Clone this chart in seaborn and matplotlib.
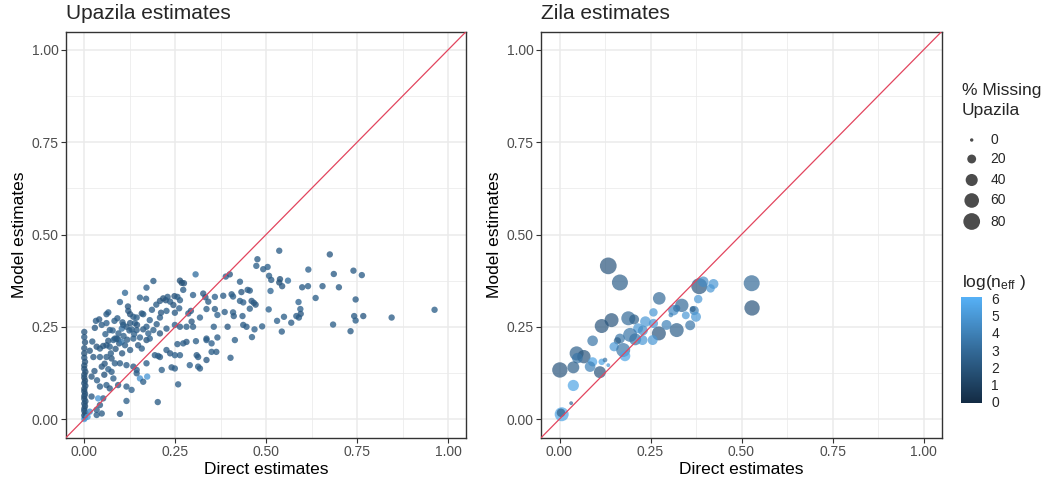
import numpy as np
import pandas as pd
import matplotlib
matplotlib.use("Agg")
import matplotlib.pyplot as plt
import seaborn as sns
from matplotlib.colors import LinearSegmentedColormap, Normalize
from matplotlib.cm import ScalarMappable

# ---------------- data: Upazila panel (direct, model, log n_eff) ----------------
A_x = [0.536,0.675,0.476,0.473,0.492,0.504,0.616,0.740,0.763,0.686,0.508,0.514,0.536,0.538,0.544,0.560,0.512,0.599,0.615,0.655,0.700,0.636,0.746,0.455,0.460,0.466,0.471,0.455,0.589,0.507,0.594,0.595,0.583,0.590,0.549,0.530,0.569,0.742,0.746,0.767,0.845,0.963,0.684,0.732,0.543,0.489,0.468,0.461]
A_y = [0.456,0.446,0.433,0.415,0.406,0.412,0.405,0.402,0.390,0.393,0.388,0.377,0.370,0.379,0.360,0.375,0.347,0.357,0.360,0.360,0.357,0.328,0.324,0.348,0.320,0.315,0.310,0.299,0.317,0.297,0.298,0.285,0.279,0.275,0.277,0.266,0.261,0.279,0.267,0.279,0.275,0.296,0.256,0.238,0.237,0.251,0.243,0.222]
A_c = [2.4,2.2,2.3,2.5,2.4,2.6,2.6,2.3,2.4,2.3,2.5,2.4,1.8,1.9,2.2,3.2,2.9,2.4,2.5,2.4,2.3,2.5,2.3,2.4,2.2,2.3,2.1,2.5,2.8,2.7,2.6,2.2,2.4,2.3,2.5,2.6,2.4,2.3,2.5,2.2,2.4,2.5,2.5,2.3,2.4,2.5,2.6,2.5]

B_x = [0.190,0.263,0.268,0.274,0.306,0.389,0.400,0.428,0.171,0.112,0.153,0.170,0.098,0.208,0.217,0.224,0.229,0.236,0.245,0.248,0.256,0.263,0.272,0.299,0.327,0.333,0.341,0.359,0.382,0.405,0.409,0.432,0.449,0.428,0.437]
B_y = [0.374,0.375,0.369,0.368,0.392,0.386,0.392,0.372,0.356,0.342,0.329,0.326,0.317,0.320,0.327,0.322,0.331,0.318,0.309,0.333,0.331,0.322,0.350,0.336,0.340,0.330,0.318,0.331,0.334,0.338,0.332,0.344,0.350,0.320,0.316]
B_c = [2.3,1.9,1.7,2.0,3.3,2.4,2.2,2.5,2.6,3.0,2.5,2.4,2.6,2.2,1.9,2.0,2.3,2.4,2.1,2.0,2.3,2.5,2.4,2.6,2.2,2.0,2.3,2.6,2.4,2.3,2.5,2.2,2.4,2.5,2.6]

C_x = [0.032,0.041,0.066,0.061,0.083,0.091,0.121,0.126,0.135,0.144,0.158,0.162,0.180,0.208,0.211,0.226,0.249,0.261,0.286,0.293,0.336,0.359,0.366,0.386,0.409,0.411,0.435]
C_y = [0.266,0.270,0.289,0.284,0.266,0.273,0.293,0.284,0.277,0.275,0.286,0.284,0.268,0.275,0.288,0.293,0.288,0.300,0.286,0.293,0.298,0.298,0.282,0.290,0.289,0.279,0.279]
C_c = [2.4,2.2,2.6,2.3,2.5,2.4,2.2,2.0,2.3,2.5,2.1,2.3,2.6,2.4,2.2,2.5,2.3,2.6,2.4,2.2,2.5,2.3,2.6,2.4,2.5,2.3,2.4]

D_x = [0.029,0.048,0.061,0.070,0.084,0.093,0.103,0.107,0.116,0.126,0.130,0.139,0.144,0.153,0.162,0.171,0.190,0.199,0.208,0.226,0.249,0.263,0.281,0.295,0.299,0.318,0.336,0.356,0.366,0.394,0.414,0.437,0.446]
D_y = [0.247,0.255,0.260,0.241,0.218,0.216,0.245,0.255,0.250,0.260,0.243,0.260,0.241,0.221,0.243,0.250,0.241,0.257,0.232,0.245,0.255,0.250,0.250,0.264,0.250,0.275,0.218,0.250,0.221,0.250,0.214,0.255,0.250]
D_c = [2.2,2.4,2.6,2.3,2.1,2.5,3.4,2.4,2.3,2.2,2.5,2.4,2.3,2.6,2.2,2.4,2.5,2.3,2.1,2.4,2.6,2.3,2.5,2.2,2.4,2.6,2.3,2.5,2.4,2.2,2.5,2.3,2.4]

E_x = [0.034,0.043,0.052,0.061,0.070,0.080,0.089,0.096,0.103,0.112,0.126,0.135,0.148,0.158,0.171,0.180,0.194,0.203,0.226,0.236,0.249,0.256,0.263,0.272,0.281,0.307,0.313,0.336,0.350]
E_y = [0.196,0.191,0.198,0.200,0.196,0.214,0.218,0.205,0.209,0.200,0.187,0.218,0.200,0.191,0.214,0.218,0.173,0.171,0.187,0.178,0.173,0.203,0.173,0.205,0.209,0.211,0.168,0.214,0.205]
E_c = [2.0,2.3,2.1,2.2,2.4,2.6,2.3,2.1,3.6,2.4,2.3,2.5,2.2,2.4,2.0,2.6,2.3,2.5,2.4,2.2,2.6,2.3,2.5,2.4,2.2,2.5,2.3,2.4,2.6]

F_x = [0.025,0.043,0.061,0.075,0.084,0.098,0.116,0.135,0.144,0.171,0.208,0.213,0.240,0.249,0.290,0.309,0.313,0.318,0.336,0.350,0.363,0.402,0.153,0.173,0.144,0.075,0.048,0.080]
F_y = [0.168,0.168,0.168,0.164,0.151,0.151,0.146,0.142,0.133,0.151,0.168,0.133,0.140,0.137,0.146,0.173,0.142,0.137,0.160,0.182,0.182,0.166,0.110,0.115,0.124,0.128,0.142,0.110]
F_c = [2.2,2.4,2.3,2.1,2.5,2.3,2.4,2.2,2.6,2.4,2.3,2.5,2.2,2.4,2.6,2.3,2.5,2.4,2.2,2.5,2.3,2.4,4.8,5.0,2.4,2.3,2.2,2.5]

G_x = [0.043,0.061,0.093,0.116,0.130,0.070,0.052,0.043,0.020,0.034,0.048,0.034,0.098,0.116,0.202,0.258,0.162,0.038,0.009,0.015]
G_y = [0.088,0.092,0.092,0.088,0.079,0.083,0.056,0.038,0.061,0.025,0.015,0.011,0.014,0.049,0.046,0.094,0.101,0.056,0.006,0.020]
G_c = [2.3,2.5,2.2,2.4,2.6,2.1,2.4,2.3,2.2,2.5,2.3,2.4,2.2,2.5,2.3,2.4,2.5,5.0,5.3,4.6]

H_x = [0.000,0.002,0.000,0.003,0.000,0.000,0.002,0.000,0.003,0.000,0.000,0.002,0.000,0.000,0.003,0.000,0.002,0.000,0.000,0.003,0.000,0.000,0.002,0.000,0.000,0.000,0.002,0.000,0.000]
H_y = [0.000,0.004,0.010,0.016,0.022,0.028,0.035,0.042,0.048,0.055,0.062,0.068,0.075,0.082,0.090,0.097,0.104,0.112,0.120,0.128,0.136,0.145,0.155,0.166,0.178,0.192,0.208,0.222,0.236]
H_c = [5.2,4.4,2.0,1.8,1.9,2.1,1.7,2.0,1.8,1.9,1.6,2.0,1.8,1.7,1.9,2.0,1.8,1.6,1.9,1.7,2.0,1.8,1.9,2.1,1.8,2.0,1.9,2.2,2.1]

I_x = [0.015,0.022,0.028,0.035,0.055,0.058,0.066,0.073,0.078,0.086,0.094,0.104,0.108,0.118,0.124,0.056,0.066,0.020,0.105,0.137,0.145,0.186,0.198,0.176,0.120]
I_y = [0.185,0.210,0.130,0.105,0.120,0.230,0.212,0.178,0.240,0.190,0.232,0.178,0.225,0.215,0.240,0.150,0.135,0.115,0.262,0.230,0.255,0.296,0.310,0.232,0.305]
I_c = [2.1,2.3,2.2,2.4,2.0,2.5,2.2,2.3,2.6,2.1,2.4,2.2,2.5,2.3,2.4,2.2,2.6,2.1,2.3,2.5,2.2,2.4,2.3,2.6,2.2]

up_direct = H_x + A_x + B_x + C_x + D_x + E_x + F_x + I_x + G_x
up_model = H_y + A_y + B_y + C_y + D_y + E_y + F_y + I_y + G_y
up_logneff = H_c + A_c + B_c + C_c + D_c + E_c + F_c + I_c + G_c

# ---------------- data: Zila panel ----------------
zi_direct = [0.134,0.166,0.528,0.529,0.384,0.395,0.423,0.415,0.274,0.381,0.336,0.313,0.322,0.258,0.370,0.375,0.347,0.366,0.306,0.143,0.116,0.189,0.205,0.236,0.216,0.258,0.273,0.294,0.322,0.359,0.194,0.208,0.228,0.256,0.091,0.166,0.159,0.150,0.175,0.180,0.047,0.067,0.049,0.091,0.084,0.116,0.125,0.134,0.038,0.001,0.111,0.038,0.032,0.006,0.004,0.229]
zi_model = [0.415,0.370,0.368,0.301,0.360,0.372,0.366,0.354,0.327,0.325,0.308,0.295,0.300,0.289,0.294,0.277,0.281,0.298,0.282,0.268,0.252,0.273,0.270,0.264,0.246,0.259,0.232,0.255,0.241,0.254,0.228,0.216,0.214,0.214,0.212,0.218,0.212,0.196,0.187,0.171,0.178,0.169,0.165,0.155,0.142,0.155,0.160,0.146,0.140,0.133,0.127,0.091,0.043,0.013,0.017,0.240]
zi_missing = [80,73,73,67,73,30,26,18,44,18,50,30,12,18,22,26,15,7,3,55,55,55,26,30,26,22,55,26,55,26,55,39,26,26,30,26,12,22,55,30,55,50,30,22,30,9,3,1,39,67,39,34,1,55,18,26]
zi_logneff = [2.0,2.5,3.0,2.0,2.0,4.5,5.0,5.0,3.0,5.0,3.0,4.5,3.5,5.0,4.0,5.0,5.0,2.5,4.0,2.0,2.0,3.0,2.5,5.0,5.0,5.0,2.0,4.0,2.5,3.5,3.5,3.5,5.0,5.0,3.5,3.5,2.5,5.0,3.5,5.5,2.5,2.0,3.5,5.5,4.0,5.5,3.5,5.0,2.5,2.0,2.0,5.5,3.0,5.5,2.5,4.5]

tick_vals = [0.0, 0.25, 0.5, 0.75, 1.0]
tick_labels = ["0.00", "0.25", "0.50", "0.75", "1.00"]
size_legend_vals = [0, 20, 40, 60, 80]
cbar_ticks = [0, 1, 2, 3, 4, 5, 6]

# ---------------- style ----------------
sns.set_theme(style="white")
plt.rcParams["font.family"] = ["Liberation Sans", "DejaVu Sans"]
plt.rcParams["mathtext.fontset"] = "custom"
plt.rcParams["mathtext.rm"] = "Liberation Sans"
plt.rcParams["mathtext.it"] = "Liberation Sans:italic"

cmap = LinearSegmentedColormap.from_list("gg", ["#132B43", "#336A98", "#56B1F7"])
norm = Normalize(vmin=-0.1, vmax=6.1)
SIZES = (6, 145)
SIZE_NORM = (0, 80)

df_up = pd.DataFrame({"direct": up_direct, "model": up_model, "logneff": up_logneff})
df_zi = pd.DataFrame({"direct": zi_direct, "model": zi_model, "missing": zi_missing, "logneff": zi_logneff})

W, H = 1047, 483
fig = plt.figure(figsize=(W / 100, H / 100), dpi=100)
axL = fig.add_axes([66.1 / W, (H - 437.5) / H, 400.1 / W, 406 / H])
axR = fig.add_axes([541.3 / W, (H - 437.5) / H, 400.4 / W, 406 / H])

sns.scatterplot(data=df_up, x="direct", y="model", hue="logneff", palette=cmap, hue_norm=norm,
                s=21, alpha=0.78, edgecolor="none", linewidth=0, legend=False, ax=axL, zorder=3)
sns.scatterplot(data=df_zi, x="direct", y="model", hue="logneff", palette=cmap, hue_norm=norm,
                size="missing", sizes=SIZES, size_norm=SIZE_NORM,
                alpha=0.7, edgecolor="none", linewidth=0, legend=False, ax=axR, zorder=3)

for ax, title in [(axL, "Upazila estimates"), (axR, "Zila estimates")]:
    ax.axline((0, 0), slope=1, color="#E2455E", lw=0.9, zorder=4)
    ax.set_xlim(-0.05, 1.05)
    ax.set_ylim(-0.05, 1.05)
    ax.set_xticks(tick_vals)
    ax.set_xticklabels(tick_labels)
    ax.set_yticks(tick_vals)
    ax.set_yticklabels(tick_labels)
    ax.set_xticks([0.125, 0.375, 0.625, 0.875], minor=True)
    ax.set_yticks([0.125, 0.375, 0.625, 0.875], minor=True)
    ax.grid(which="major", color="#EBEBEB", lw=1.1)
    ax.grid(which="minor", color="#EBEBEB", lw=0.55)
    ax.set_axisbelow(True)
    for sp in ax.spines.values():
        sp.set_color("#333333")
        sp.set_linewidth(1.0)
    ax.tick_params(which="major", length=3.5, width=0.8, color="#333333",
                   labelsize=10, labelcolor="#4D4D4D", pad=2, bottom=True, left=True)
    ax.tick_params(which="minor", length=0)
    ax.set_xlabel("Direct estimates", fontsize=12.5, color="black", labelpad=2)
    ax.set_ylabel("Model estimates", fontsize=12.5, color="black", labelpad=3)
    ax.set_title(title, loc="left", fontsize=15, pad=9)

# ---------------- legends ----------------
lax = fig.add_axes([0, 0, 1, 1])
lax.set_xlim(0, W)
lax.set_ylim(H, 0)
lax.axis("off")
lax.patch.set_visible(False)

lax.text(961.7, 90, "% Missing", fontsize=12.5, va="center", ha="left")
lax.text(961.7, 110, "Upazila", fontsize=12.5, va="center", ha="left")
key_y = [140, 159, 180, 200.5, 221.5]
for v, yy in zip(size_legend_vals, key_y):
    s = SIZES[0] + (v - SIZE_NORM[0]) / (SIZE_NORM[1] - SIZE_NORM[0]) * (SIZES[1] - SIZES[0])
    lax.scatter([971.7], [yy], s=s, color="black", alpha=0.7, edgecolor="none")
    lax.text(990.7, yy, str(v), fontsize=10, va="center", ha="left")

lax.text(961.7, 283, r"log(n$_{\mathrm{eff}}$ )", fontsize=12.5, va="center", ha="left")

cax = fig.add_axes([960.7 / W, (H - 403.3) / H, 21 / W, 106.6 / H])
cb = fig.colorbar(ScalarMappable(norm=norm, cmap=cmap), cax=cax)
cb.outline.set_visible(False)
cb.set_ticks(cbar_ticks)
cax.tick_params(axis="y", which="major", direction="in", left=True, right=True,
                color="white", length=3.5, width=0.8, labelsize=10,
                labelleft=False, labelright=True, pad=7)
cax.tick_params(axis="y", which="minor", length=0)

fig.savefig("out.png", dpi=100)
